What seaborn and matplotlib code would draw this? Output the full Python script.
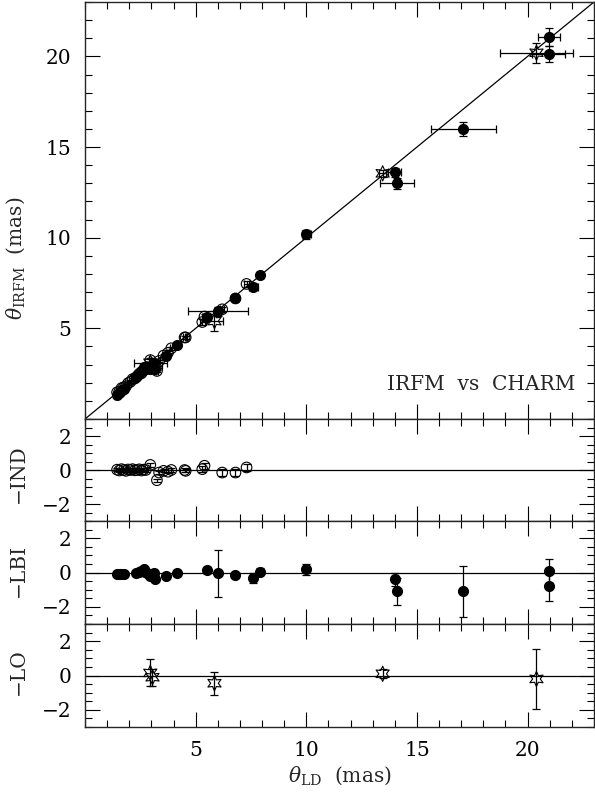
import numpy as np
import pandas as pd
import matplotlib
matplotlib.use("Agg")
import matplotlib.pyplot as plt
import seaborn as sns
from matplotlib.ticker import MultipleLocator, FixedLocator

# ---------------- data ----------------
# LBI: filled circles
ld_lbi = [1.45, 1.52, 1.60, 1.68, 1.75, 2.30, 2.42, 2.55, 2.65, 2.72, 2.80, 2.95, 3.10, 3.15,
          3.65, 4.15, 5.50, 6.00, 6.80, 7.60, 7.90, 10.00, 14.00, 14.10, 17.10, 20.95, 20.95]
irfm_lbi = [1.35, 1.44, 1.50, 1.62, 1.67, 2.30, 2.47, 2.63, 2.85, 2.77, 2.80, 2.75, 3.10, 2.75,
            3.45, 4.10, 5.65, 5.95, 6.65, 7.30, 7.95, 10.20, 13.60, 13.00, 16.00, 21.05, 20.15]
eld_lbi = [0.05, 0.05, 0.05, 0.05, 0.05, 0.05, 0.05, 0.05, 0.05, 0.05, 0.05, 0.05, 0.05, 0.05,
           0.05, 0.05, 0.15, 1.35, 0.10, 0.20, 0.15, 0.20, 0.30, 0.75, 1.45, 0.50, 0.75]
eirfm_lbi = [0.08, 0.08, 0.08, 0.08, 0.08, 0.08, 0.08, 0.08, 0.08, 0.08, 0.08, 0.08, 0.08, 0.08,
             0.08, 0.08, 0.12, 0.25, 0.10, 0.20, 0.15, 0.25, 0.25, 0.30, 0.40, 0.50, 0.45]

# IND: open circles
ld_ind = [1.45, 1.55, 1.65, 1.75, 1.85, 1.95, 2.05, 2.15, 2.25, 2.35, 2.45, 2.55, 2.65, 2.75,
          2.95, 3.25, 3.35, 3.55, 3.75, 3.90, 4.50, 4.55, 5.30, 5.40, 6.20, 6.80, 7.30]
irfm_ind = [1.47, 1.52, 1.70, 1.75, 1.80, 1.98, 2.05, 2.20, 2.23, 2.35, 2.49, 2.52, 2.67, 2.75,
            3.25, 2.65, 3.20, 3.50, 3.65, 3.90, 4.50, 4.50, 5.35, 5.65, 6.05, 6.65, 7.45]
eld_ind = [0.05] * 22 + [0.10, 0.10, 0.10, 0.10, 0.10]
eirfm_ind = [0.08] * 22 + [0.15, 0.15, 0.15, 0.15, 0.15]

# LO: open six-pointed stars
ld_lo = [2.95, 3.05, 5.85, 13.45, 20.40]
irfm_lo = [3.10, 2.95, 5.40, 13.55, 20.20]
eld_lo = [0.75, 0.45, 0.40, 0.15, 1.65]
eirfm_lo = [0.25, 0.20, 0.55, 0.20, 0.55]

xticks_major = [5, 10, 15, 20]
yticks_main = [5, 10, 15, 20]
yticks_res = [-2, 0, 2]
res_labels = ["\u2212IND", "\u2212LBI", "\u2212LO"]

# ---------------- styling ----------------
sns.set_style("ticks")
plt.rcParams["font.family"] = ["DejaVu Serif"]
plt.rcParams["mathtext.fontset"] = "dejavuserif"
plt.rcParams["axes.linewidth"] = 1.0

W, H = 595, 795
fig = plt.figure(figsize=(W / 100, H / 100), dpi=100)
left_px, right_px = 85, 594
edges = [2, 419, 521, 624, 727]
axes = []
for i in range(4):
    b = 1 - edges[i + 1] / H
    h = (edges[i + 1] - edges[i]) / H
    ax = fig.add_axes([left_px / W, b, (right_px - left_px) / W, h])
    axes.append(ax)

fs = 14.5
ebkw = dict(fmt="none", ecolor="black", elinewidth=0.9, capsize=2.8, capthick=0.9, zorder=2)

def style_ax(ax, ymajor, yminor, show_x):
    ax.set_xlim(0, 23)
    ax.xaxis.set_major_locator(FixedLocator(xticks_major))
    ax.xaxis.set_minor_locator(MultipleLocator(1))
    ax.yaxis.set_major_locator(FixedLocator(ymajor))
    ax.yaxis.set_minor_locator(MultipleLocator(yminor))
    ax.tick_params(which="both", direction="in", top=True, right=True, width=0.8,
                   labelsize=fs, colors="black")
    ax.tick_params(which="major", length=10.5, pad=10)
    ax.tick_params(which="minor", length=5)
    if not show_x:
        ax.tick_params(axis="x", labelbottom=False)
    ax.set_xlabel("")
    ax.set_ylabel("")

# ---- main panel ----
ax0 = axes[0]
ax0.plot([0, 23], [0, 23], color="black", lw=0.9, zorder=1)
for ld, ir, eld, eir in [(ld_lbi, irfm_lbi, eld_lbi, eirfm_lbi),
                         (ld_ind, irfm_ind, eld_ind, eirfm_ind),
                         (ld_lo, irfm_lo, eld_lo, eirfm_lo)]:
    ax0.errorbar(ld, ir, xerr=eld, yerr=eir, **ebkw)

df_lbi = pd.DataFrame({"ld": ld_lbi, "irfm": irfm_lbi})
df_ind = pd.DataFrame({"ld": ld_ind, "irfm": irfm_ind})
df_lo = pd.DataFrame({"ld": ld_lo, "irfm": irfm_lo})
for d in (df_lbi, df_ind, df_lo):
    d["res"] = d["irfm"] - d["ld"]
df_lbi["eres"] = np.sqrt(np.array(eld_lbi) ** 2 + np.array(eirfm_lbi) ** 2)
df_ind["eres"] = np.sqrt(np.array(eld_ind) ** 2 + np.array(eirfm_ind) ** 2)
df_lo["eres"] = np.sqrt(np.array(eld_lo) ** 2 + np.array(eirfm_lo) ** 2)

mk_lbi = dict(marker="o", s=52, facecolor="black", edgecolor="black", linewidth=0.8, zorder=3)
mk_ind = dict(marker="o", s=58, facecolor="none", edgecolor="black", linewidth=0.8, zorder=3)
mk_lo = dict(marker=(6, 1, 0), s=120, facecolor="none", edgecolor="black", linewidth=0.8, zorder=3)

sns.scatterplot(data=df_ind, x="ld", y="irfm", ax=ax0, legend=False, **mk_ind)
sns.scatterplot(data=df_lbi, x="ld", y="irfm", ax=ax0, legend=False, **mk_lbi)
sns.scatterplot(data=df_lo, x="ld", y="irfm", ax=ax0, legend=False, **mk_lo)
ax0.set_ylim(0, 23)
style_ax(ax0, yticks_main, 1, False)
ax0.text(0.963, 0.07, "IRFM  vs  CHARM", transform=ax0.transAxes, ha="right",
         va="baseline", fontsize=fs)

# ---- residual panels ----
for ax, d, mk, lab, ycen in [(axes[1], df_ind, mk_ind, res_labels[0], 474),
                             (axes[2], df_lbi, mk_lbi, res_labels[1], 570),
                             (axes[3], df_lo, mk_lo, res_labels[2], 672)]:
    ax.axhline(0, color="black", lw=0.9, zorder=1)
    ax.errorbar(d["ld"], d["res"], yerr=d["eres"], **ebkw)
    sns.scatterplot(data=d, x="ld", y="res", ax=ax, legend=False, **mk)
    ax.set_ylim(-3, 3)
    style_ax(ax, yticks_res, 0.5, ax is axes[3])
    fig.text(18 / W, 1 - ycen / H, lab, rotation=90, ha="center", va="center", fontsize=fs)

fig.text(16 / W, 1 - 258 / H, r"$\theta_{\rm IRFM}$  (mas)", rotation=90,
         ha="center", va="center", fontsize=fs)
fig.text(340 / W, 1 - 776 / H, r"$\theta_{\rm LD}$  (mas)", ha="center", va="center", fontsize=fs)

fig.savefig("out.png", dpi=100)
